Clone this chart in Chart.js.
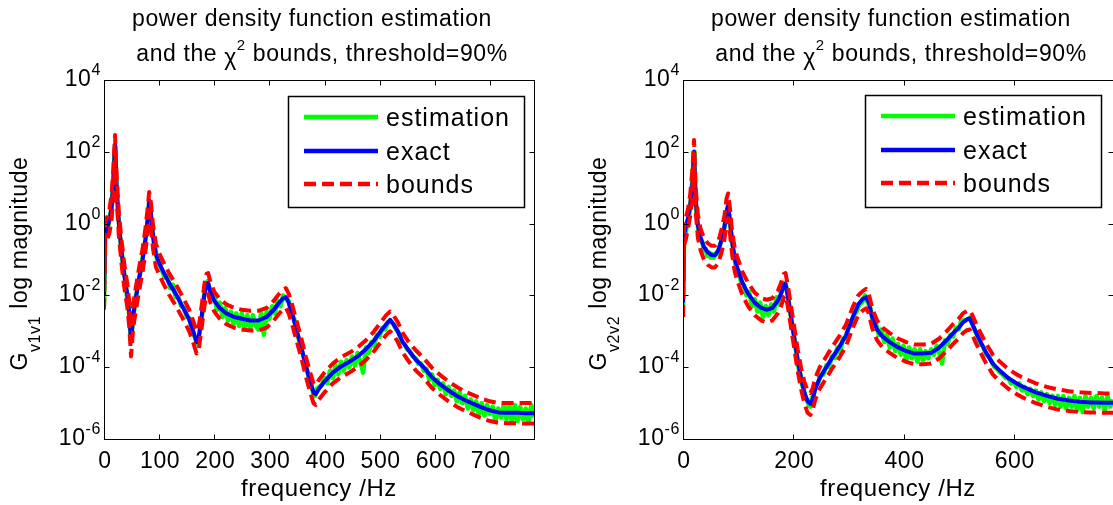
<!DOCTYPE html>
<html>
<head>
<meta charset="utf-8">
<script src="https://cdn.jsdelivr.net/npm/chart.js@4.4.0/dist/chart.umd.min.js"></script>
<style>
  html, body { margin: 0; padding: 0; background: #fff; overflow: hidden; }
  #wrap { position: relative; width: 1113px; height: 505px; overflow: hidden; background: #fff; }
  canvas { position: absolute; top: 0; }
  #psd1 { left: 0; }
  #psd2 { left: 560px; }
</style>
</head>
<body>
<div id="wrap">
  <canvas id="psd1" width="560" height="505"></canvas>
  <canvas id="psd2" width="580" height="505"></canvas>
</div>
<script>
// values are log10 of the magnitude

// ---- left plot, G v1v1 ----
const freqExact1 = [0, 2, 6, 10, 14, 17, 20, 23, 27, 32,
  37, 42, 46, 49, 53, 58, 64, 70, 75, 79,
  82, 85, 89, 94, 100, 108, 118, 130, 142, 154,
  162, 168, 172, 177, 182, 186, 189, 193, 200, 210,
  222, 236, 250, 265, 280, 295, 308, 318, 325, 330,
  335, 342, 350, 358, 366, 374, 380, 384, 390, 400,
  415, 430, 445, 460, 475, 490, 502, 512, 519, 525,
  533, 542, 552, 565, 580, 595, 610, 625, 640, 655,
  670, 685, 700, 715, 730, 750, 765, 780];
const exact1 = [-2.0, -0.3, -0.1, 0.1, 0.5, 1.2, 2.2, 1.0, 0.0, -0.8,
  -1.45, -1.95, -2.5, -3.3, -2.55, -2.05, -1.5, -1.0, -0.45, 0.1,
  0.65, 0.3, -0.35, -0.85, -1.1, -1.35, -1.65, -1.95, -2.3, -2.65,
  -3.0, -3.3, -3.15, -2.6, -2.0, -1.68, -1.66, -1.9, -2.15, -2.35,
  -2.5, -2.6, -2.65, -2.7, -2.7, -2.6, -2.4, -2.2, -2.08, -2.05,
  -2.2, -2.55, -3.0, -3.45, -3.95, -4.4, -4.7, -4.75, -4.6, -4.4,
  -4.15, -3.98, -3.85, -3.7, -3.5, -3.25, -3.0, -2.8, -2.68, -2.8,
  -3.0, -3.3, -3.52, -3.78, -4.0, -4.28, -4.48, -4.65, -4.8, -4.92,
  -5.02, -5.12, -5.2, -5.26, -5.27, -5.27, -5.28, -5.28];
const upper1 = [-1.6, 0.05, 0.2, 0.4, 0.85, 1.55, 2.47, 1.3, 0.3, -0.5,
  -1.15, -1.65, -2.2, -2.9, -2.25, -1.75, -1.2, -0.7, -0.15, 0.4,
  0.88, 0.6, -0.05, -0.55, -0.82, -1.08, -1.38, -1.68, -2.02, -2.38,
  -2.72, -3.0, -2.85, -2.3, -1.7, -1.4, -1.38, -1.62, -1.9, -2.1,
  -2.25, -2.35, -2.4, -2.43, -2.43, -2.35, -2.15, -1.95, -1.83, -1.8,
  -1.95, -2.3, -2.75, -3.2, -3.7, -4.15, -4.45, -4.5, -4.35, -4.15,
  -3.9, -3.72, -3.6, -3.45, -3.25, -3.0, -2.75, -2.55, -2.45, -2.55,
  -2.75, -3.05, -3.28, -3.52, -3.75, -4.02, -4.22, -4.4, -4.55, -4.68,
  -4.78, -4.88, -4.95, -5.0, -5.0, -5.0, -5.0, -5.0];
const lower1 = [-2.4, -0.6, -0.45, -0.25, 0.15, 0.85, 1.75, 0.65, -0.35, -1.15,
  -1.8, -2.3, -2.9, -3.7, -2.9, -2.4, -1.85, -1.35, -0.8, -0.25,
  0.3, -0.05, -0.7, -1.2, -1.42, -1.68, -1.98, -2.28, -2.62, -2.98,
  -3.32, -3.62, -3.5, -2.92, -2.32, -1.98, -1.96, -2.2, -2.45, -2.65,
  -2.8, -2.9, -2.95, -2.98, -2.98, -2.9, -2.7, -2.5, -2.38, -2.35,
  -2.5, -2.85, -3.3, -3.75, -4.25, -4.7, -5.0, -5.05, -4.9, -4.7,
  -4.45, -4.28, -4.15, -4.0, -3.8, -3.55, -3.3, -3.1, -3.0, -3.1,
  -3.3, -3.6, -3.82, -4.08, -4.3, -4.58, -4.78, -4.95, -5.1, -5.22,
  -5.32, -5.42, -5.5, -5.55, -5.56, -5.56, -5.57, -5.57];
const freqEst1 = [0, 2, 5, 8, 11, 14, 17, 19, 20, 21,
  23, 26, 29, 32, 35, 38, 41, 44, 46, 48,
  50, 52, 55, 58, 61, 64, 67, 70, 73, 76,
  79, 81, 82, 83, 85, 87, 90, 93, 96, 100,
  105, 110, 115, 120, 125, 130, 135, 140, 145, 150,
  155, 160, 163, 166, 168, 170, 172, 175, 178, 181,
  184, 186, 188, 190, 192, 195, 200, 205, 210, 215,
  220, 225, 230, 235, 240, 245, 250, 255, 260, 265,
  270, 275, 280, 285, 290, 295, 300, 305, 310, 315,
  320, 325, 330, 335, 340, 345, 350, 355, 360, 365,
  370, 375, 380, 383, 386, 390, 395, 400, 405, 410,
  415, 420, 425, 430, 435, 440, 445, 450, 455, 460,
  465, 470, 475, 480, 485, 490, 495, 500, 505, 510,
  515, 520, 525, 530, 535, 540, 545, 550, 555, 560,
  565, 570, 575, 580, 585, 590, 595, 600, 605, 610,
  615, 620, 625, 630, 635, 640, 645, 650, 655, 660,
  665, 670, 675, 680, 685, 690, 695, 700, 705, 710,
  715, 720, 725, 730, 735, 740, 745, 750, 755, 760,
  765, 770, 775, 780];
const est1 = [-2.3, -0.45, -0.2, -0.05, 0.2, 0.45, 1.25, 1.9, 2.15, 1.8,
  0.9, 0.2, -0.35, -0.75, -1.25, -1.5, -1.95, -2.2, -2.6, -3.05,
  -3.2, -2.7, -2.4, -2.0, -1.8, -1.5, -1.3, -0.95, -0.7, -0.35,
  0.05, 0.4, 0.6, 0.5, 0.2, -0.05, -0.5, -0.65, -1.0, -1.05,
  -1.3, -1.5, -1.45, -1.8, -1.7, -2.05, -2.05, -2.3, -2.35, -2.6,
  -2.65, -2.95, -3.1, -3.2, -3.35, -3.25, -3.2, -2.85, -2.55, -2.05,
  -1.8, -1.7, -1.6, -1.75, -1.85, -2.05, -2.0, -2.4, -2.2, -2.6,
  -2.35, -2.7, -2.45, -2.8, -2.5, -2.85, -2.5, -2.9, -2.55, -2.95,
  -2.55, -2.85, -2.95, -2.5, -3.1, -2.45, -2.65, -2.3, -2.5, -2.15,
  -2.3, -2.0, -2.1, -2.15, -2.5, -2.65, -3.05, -3.3, -3.6, -3.85,
  -4.2, -4.45, -4.75, -4.8, -4.6, -4.55, -4.5, -4.3, -4.45, -4.1,
  -4.3, -3.95, -4.2, -3.85, -4.1, -3.8, -4.0, -3.7, -3.95, -3.6,
  -3.85, -4.15, -3.45, -3.6, -3.3, -3.4, -3.1, -3.15, -2.9, -2.95,
  -2.75, -2.72, -2.8, -2.95, -3.05, -3.3, -3.35, -3.5, -3.55, -3.7,
  -3.75, -3.9, -3.9, -4.1, -4.05, -4.35, -4.2, -4.5, -4.35, -4.6,
  -4.45, -4.75, -4.55, -4.8, -4.65, -4.95, -4.7, -5.0, -4.8, -5.15,
  -4.9, -5.2, -4.95, -5.3, -5.0, -5.35, -5.05, -5.3, -5.1, -5.5,
  -5.15, -5.4, -5.05, -5.45, -5.0, -5.55, -5.05, -5.5, -5.1, -5.45,
  -5.15, -5.55, -5.05, -5.4];

// ---- right plot, G v2v2 ----
const freqExact2 = [0, 2, 5, 9, 13, 17, 20, 23, 27, 32,
  38, 45, 52, 58, 64, 70, 75, 79, 82, 85,
  89, 94, 100, 108, 118, 130, 142, 152, 162, 172,
  178, 183, 186, 190, 196, 202, 208, 214, 220, 226,
  231, 235, 240, 248, 258, 270, 283, 296, 308, 318,
  326, 332, 337, 343, 352, 362, 375, 390, 405, 420,
  435, 450, 465, 478, 490, 500, 508, 515, 520, 525,
  532, 540, 550, 562, 575, 590, 605, 620, 640, 660,
  680, 700, 720, 740, 750, 765, 780];
const exact2 = [-2.2, -0.3, -0.1, 0.15, 0.5, 1.1, 2.0, 0.7, -0.05, -0.4,
  -0.65, -0.8, -0.88, -0.88, -0.75, -0.45, -0.1, 0.35, 0.5, 0.1,
  -0.5, -1.0, -1.3, -1.65, -1.95, -2.2, -2.35, -2.4, -2.35, -2.15,
  -1.95, -1.7, -1.68, -2.0, -2.6, -3.2, -3.8, -4.3, -4.7, -4.95,
  -5.02, -4.9, -4.6, -4.3, -4.05, -3.75, -3.45, -3.1, -2.6, -2.25,
  -2.1, -2.05, -2.2, -2.6, -2.95, -3.15, -3.3, -3.45, -3.55, -3.62,
  -3.62, -3.6, -3.45, -3.25, -3.05, -2.9, -2.75, -2.67, -2.64, -2.8,
  -3.05, -3.3, -3.6, -3.9, -4.1, -4.3, -4.45, -4.57, -4.7, -4.8,
  -4.88, -4.93, -4.96, -4.98, -4.98, -4.99, -4.99];
const upper2 = [-1.8, 0.0, 0.15, 0.4, 0.8, 1.5, 2.33, 1.0, 0.25, -0.15,
  -0.4, -0.55, -0.62, -0.62, -0.5, -0.15, 0.2, 0.7, 0.84, 0.45,
  -0.2, -0.7, -1.0, -1.35, -1.65, -1.92, -2.08, -2.12, -2.08, -1.88,
  -1.65, -1.4, -1.38, -1.7, -2.3, -2.9, -3.5, -4.0, -4.4, -4.65,
  -4.72, -4.6, -4.3, -4.0, -3.75, -3.45, -3.15, -2.8, -2.32, -2.0,
  -1.88, -1.82, -1.95, -2.35, -2.7, -2.9, -3.05, -3.2, -3.3, -3.37,
  -3.37, -3.35, -3.2, -3.0, -2.8, -2.65, -2.5, -2.44, -2.42, -2.55,
  -2.8, -3.05, -3.35, -3.65, -3.85, -4.05, -4.2, -4.32, -4.45, -4.55,
  -4.62, -4.67, -4.7, -4.72, -4.72, -4.73, -4.73];
const lower2 = [-2.6, -0.6, -0.45, -0.15, 0.2, 0.8, 1.6, 0.35, -0.4, -0.75,
  -1.0, -1.15, -1.22, -1.22, -1.1, -0.8, -0.45, 0.0, 0.15, -0.25,
  -0.85, -1.35, -1.65, -2.0, -2.3, -2.55, -2.7, -2.75, -2.7, -2.5,
  -2.3, -2.05, -2.0, -2.3, -2.9, -3.5, -4.1, -4.6, -5.0, -5.27,
  -5.33, -5.2, -4.9, -4.6, -4.35, -4.05, -3.75, -3.4, -2.9, -2.55,
  -2.42, -2.36, -2.5, -2.9, -3.25, -3.45, -3.6, -3.75, -3.85, -3.92,
  -3.92, -3.9, -3.75, -3.55, -3.35, -3.2, -3.05, -2.97, -2.95, -3.1,
  -3.35, -3.6, -3.9, -4.2, -4.4, -4.6, -4.75, -4.87, -5.0, -5.1,
  -5.18, -5.22, -5.25, -5.26, -5.26, -5.27, -5.27];
const freqEst2 = [0, 2, 5, 8, 11, 14, 17, 19, 20, 21,
  23, 26, 29, 32, 35, 38, 41, 44, 47, 50,
  53, 56, 59, 62, 65, 68, 71, 74, 77, 79,
  81, 82, 83, 85, 87, 90, 93, 96, 100, 105,
  110, 115, 120, 125, 130, 135, 140, 145, 150, 155,
  160, 165, 170, 175, 178, 181, 184, 186, 188, 190,
  192, 195, 198, 201, 204, 207, 210, 213, 216, 219,
  222, 225, 228, 231, 234, 237, 240, 245, 250, 255,
  260, 265, 270, 275, 280, 285, 290, 295, 300, 305,
  310, 315, 320, 325, 330, 335, 340, 345, 350, 355,
  360, 365, 370, 375, 380, 385, 390, 395, 400, 405,
  410, 415, 420, 425, 430, 435, 440, 445, 450, 455,
  460, 465, 470, 475, 480, 485, 490, 495, 500, 505,
  510, 515, 520, 525, 530, 535, 540, 545, 550, 555,
  560, 565, 570, 575, 580, 585, 590, 595, 600, 605,
  610, 615, 620, 625, 630, 635, 640, 645, 650, 655,
  660, 665, 670, 675, 680, 685, 690, 695, 700, 705,
  710, 715, 720, 725, 730, 735, 740, 745, 750, 755,
  760, 765, 770, 775, 780];
const est2 = [-2.6, -0.45, -0.25, 0.05, 0.2, 0.6, 1.2, 1.8, 2.0, 1.6,
  0.6, 0.05, -0.3, -0.45, -0.5, -0.75, -0.7, -0.9, -0.8, -0.95,
  -0.85, -0.95, -0.85, -0.85, -0.7, -0.55, -0.45, -0.2, 0.05, 0.3,
  0.45, 0.55, 0.35, 0.05, -0.2, -0.6, -0.85, -1.25, -1.3, -1.6,
  -1.7, -2.0, -1.9, -2.3, -2.1, -2.45, -2.2, -2.6, -2.3, -2.55,
  -2.25, -2.45, -2.05, -2.25, -1.9, -1.85, -1.65, -1.7, -1.8, -2.0,
  -2.2, -2.5, -2.8, -3.1, -3.45, -3.7, -4.05, -4.2, -4.5, -4.6,
  -4.85, -4.9, -5.05, -5.1, -4.85, -4.8, -4.5, -4.45, -4.2, -4.2,
  -3.95, -4.0, -3.7, -3.75, -3.45, -3.6, -3.2, -3.2, -2.9, -2.85,
  -2.55, -2.45, -2.25, -2.2, -2.0, -2.2, -2.35, -2.75, -2.8, -3.1,
  -2.95, -3.3, -3.1, -3.45, -3.2, -3.55, -3.35, -3.65, -3.4, -3.8,
  -3.45, -3.75, -3.5, -3.85, -3.5, -3.8, -3.55, -3.75, -3.5, -3.65,
  -3.4, -3.6, -3.9, -3.25, -3.35, -3.1, -3.15, -2.9, -2.95, -2.7,
  -2.7, -2.68, -2.62, -2.8, -3.0, -3.15, -3.35, -3.45, -3.65, -3.7,
  -3.85, -4.0, -4.05, -4.15, -4.2, -4.3, -4.3, -4.45, -4.4, -4.55,
  -4.45, -4.65, -4.55, -4.75, -4.6, -4.8, -4.65, -4.9, -4.7, -4.95,
  -4.75, -5.0, -4.8, -5.05, -4.8, -5.1, -4.8, -5.15, -4.85, -5.1,
  -4.8, -5.2, -4.85, -5.25, -4.8, -5.1, -4.85, -5.15, -4.8, -5.1,
  -4.85, -5.2, -4.8, -5.1, -4.9];

// ---- axes and text ----
const xMax = 780;
const yTickExp = [-6, -4, -2, 0, 2, 4];
const xTicks1 = [0, 100, 200, 300, 400, 500, 600, 700];
const xTicks2 = [0, 200, 400, 600];
const legendLabels = ['estimation', 'exact', 'bounds'];

const FONT = '"Liberation Sans", Arial, Helvetica, sans-serif';

function setFont(ctx, size, spacing) {
  ctx.font = size + 'px ' + FONT;
  ctx.letterSpacing = (spacing === undefined ? 0.6 : spacing) + 'px';
}

function richWidth(ctx, parts) {
  let w = 0;
  parts.forEach((p) => {
    setFont(ctx, p.size, p.ls);
    w += ctx.measureText(p.text).width;
  });
  return w;
}

// draws text pieces side by side, super/subscripts moved by dy
function drawRich(ctx, parts, x, y, align) {
  const w = richWidth(ctx, parts);
  let cx = x;
  if (align === 'center') cx = x - w / 2;
  if (align === 'right') cx = x - w;
  ctx.textAlign = 'left';
  ctx.textBaseline = 'alphabetic';
  parts.forEach((p) => {
    setFont(ctx, p.size, p.ls);
    ctx.fillText(p.text, cx, y + (p.dy || 0));
    cx += ctx.measureText(p.text).width;
  });
}

const toPoints = (freq, vals) => freq.map((f, i) => ({ x: f, y: Math.pow(10, vals[i]) }));

const matlabAxes = {
  id: 'matlabAxes',
  afterDatasetsDraw(chart, args, opts) {
    const ctx = chart.ctx;
    const a = chart.chartArea;
    const xs = chart.scales.x;
    const ys = chart.scales.y;
    ctx.save();
    ctx.fillStyle = '#000';
    ctx.strokeStyle = '#000';
    ctx.lineWidth = 1;

    // box and inward ticks
    const L = Math.round(a.left) + 0.5, R = Math.round(a.right) + 0.5;
    const T = Math.round(a.top) + 0.5, B = Math.round(a.bottom) + 0.5;
    ctx.strokeRect(L, T, R - L, B - T);
    ctx.beginPath();
    opts.xTicks.forEach((v) => {
      const px = Math.round(xs.getPixelForValue(v)) + 0.5;
      ctx.moveTo(px, B); ctx.lineTo(px, B - 5);
      ctx.moveTo(px, T); ctx.lineTo(px, T + 5);
    });
    yTickExp.forEach((e) => {
      const py = Math.round(ys.getPixelForValue(Math.pow(10, e))) + 0.5;
      ctx.moveTo(L, py); ctx.lineTo(L + 5, py);
      ctx.moveTo(R, py); ctx.lineTo(R - 5, py);
    });
    ctx.stroke();

    // tick labels
    opts.xTicks.forEach((v) => {
      drawRich(ctx, [{ text: String(v), size: 23 }], xs.getPixelForValue(v) + 1, 468, 'center');
    });
    yTickExp.forEach((e) => {
      const py = ys.getPixelForValue(Math.pow(10, e));
      drawRich(ctx, [{ text: '10', size: 23 }, { text: String(e), size: 16, dy: -11 }], a.left - 3, py + 6, 'right');
    });

    // title
    const cx = (a.left + a.right) / 2;
    drawRich(ctx, [{ text: 'power density function estimation', size: 23 }], cx - 7, 26, 'center');
    drawRich(ctx, [
      { text: 'and the ', size: 23 },
      { text: 'χ', size: 23, dy: 4 },
      { text: '2', size: 15, dy: -11 },
      { text: ' bounds, threshold=90%', size: 23 }
    ], cx + 3, 61, 'center');

    // x label
    drawRich(ctx, [{ text: 'frequency /Hz', size: 24 }], cx, 496, 'center');

    // y label, rotated
    ctx.save();
    ctx.translate(a.left - 77, (a.top + a.bottom) / 2 + 4);
    ctx.rotate(-Math.PI / 2);
    drawRich(ctx, [
      { text: 'G', size: 23 },
      { text: opts.sub, size: 16, dy: 13 },
      { text: ' log magnitude', size: 23 }
    ], 0, 0, 'center');
    ctx.restore();

    // legend
    const lg = opts.legend;
    ctx.fillStyle = '#fff';
    ctx.fillRect(lg.left, lg.top, lg.width, lg.height);
    ctx.strokeStyle = '#000';
    ctx.lineWidth = 1.5;
    ctx.strokeRect(lg.left + 0.5, lg.top + 0.5, lg.width, lg.height);
    const rows = [lg.top + 21, lg.top + 55, lg.top + 88];
    const styles = [
      { color: '#00ff00', dash: [] },
      { color: '#0000ff', dash: [] },
      { color: '#ff0000', dash: [12, 6] }
    ];
    styles.forEach((s, i) => {
      ctx.strokeStyle = s.color;
      ctx.lineWidth = 4.5;
      ctx.setLineDash(s.dash);
      ctx.beginPath();
      ctx.moveTo(lg.left + 16, rows[i]);
      ctx.lineTo(lg.left + 90, rows[i]);
      ctx.stroke();
    });
    ctx.setLineDash([]);
    ctx.fillStyle = '#000';
    legendLabels.forEach((t, i) => {
      drawRich(ctx, [{ text: t, size: 25, ls: 1.0 }], lg.left + 98, rows[i] + 9, 'left');
    });
    ctx.restore();
  }
};

function makeChart(id, box, freqE, exact, upper, lower, freqG, est, axesOpts) {
  const cv = document.getElementById(id);
  return new Chart(cv, {
    type: 'line',
    data: {
      datasets: [
        { label: 'bounds', data: toPoints(freqE, upper), borderColor: '#ff0000', borderWidth: 4, borderDash: [12, 6] },
        { label: 'bounds lower', data: toPoints(freqE, lower), borderColor: '#ff0000', borderWidth: 4, borderDash: [12, 6] },
        { label: 'exact', data: toPoints(freqE, exact), borderColor: '#0000ff', borderWidth: 4 },
        { label: 'estimation', data: toPoints(freqG, est), borderColor: '#00ff00', borderWidth: 4.5 }
      ]
    },
    options: {
      responsive: false,
      animation: false,
      devicePixelRatio: 1,
      events: [],
      layout: {
        padding: { left: box.left, top: box.top, right: cv.width - box.right, bottom: cv.height - box.bottom }
      },
      elements: {
        point: { radius: 0 },
        line: { tension: 0, borderJoinStyle: 'round', fill: false }
      },
      scales: {
        x: { type: 'linear', min: 0, max: xMax, display: false },
        y: { type: 'logarithmic', min: 1e-6, max: 1e4, display: false }
      },
      plugins: {
        legend: { display: false },
        tooltip: { enabled: false },
        matlabAxes: axesOpts
      }
    },
    plugins: [matlabAxes]
  });
}

makeChart('psd1', { left: 104, top: 80, right: 534, bottom: 439 },
  freqExact1, exact1, upper1, lower1, freqEst1, est1,
  { xTicks: xTicks1, sub: 'v1v1', legend: { left: 288, top: 96, width: 236, height: 111 } });

makeChart('psd2', { left: 123, top: 80, right: 553, bottom: 439 },
  freqExact2, exact2, upper2, lower2, freqEst2, est2,
  { xTicks: xTicks2, sub: 'v2v2', legend: { left: 305, top: 95, width: 236, height: 112 } });
</script>
</body>
</html>
